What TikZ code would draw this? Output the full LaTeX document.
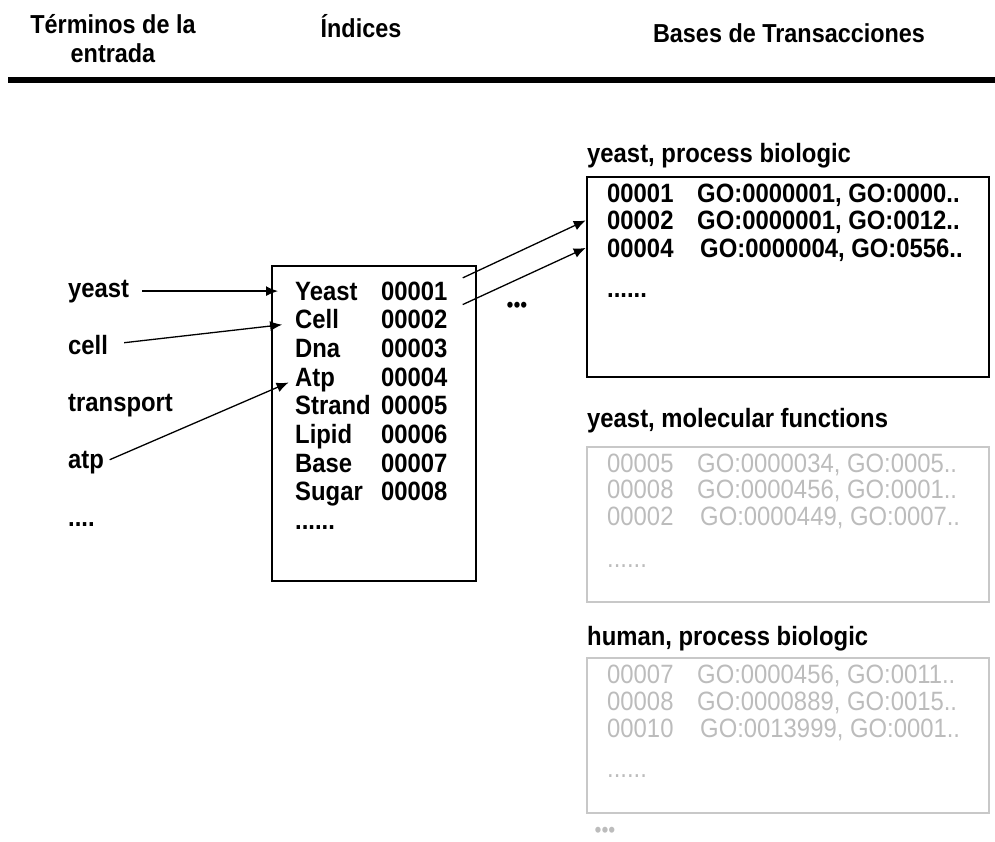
\documentclass[tikz,border=0pt]{standalone}
\usepackage{fontspec}
\setmainfont{Liberation Sans}[FakeStretch=0.9]
\usetikzlibrary{arrows.meta,calc}
\definecolor{fadetext}{RGB}{188,188,188}
\definecolor{fadeline}{RGB}{200,200,200}
\begin{document}
\begin{tikzpicture}[x=1pt, y=-1pt,
    lbl/.style={inner sep=0pt, anchor=base west, font=\fontsize{26.5}{29}\selectfont\bfseries},
    row/.style={inner sep=0pt, anchor=base west, font=\fontsize{26.5}{29}\selectfont},
    head/.style={inner sep=0pt, anchor=base, align=center, font=\fontsize{26}{29}\selectfont\bfseries},
    idxbox/.style={draw, line width=2.5pt, minimum width=204pt, minimum height=315pt, inner sep=0pt},
    dbbox/.style={draw, line width=2.5pt, minimum width=402pt, inner sep=0pt},
    fade/.style={draw=fadeline, text=fadetext},
    link/.style={-{Latex[length=12pt,width=10pt]}, line width=1.3pt}]
	\useasboundingbox (0,0) rectangle (995,841);

	\node[head] (hterm) at (113,62) {Términos de la\\entrada};
	\node[head] (hidx) at (361,37) {Índices};
	\node[head] (hdb) at (789,42) {Bases de Transacciones};
	\draw[line width=6pt] (8,80) -- (995,80);

	\foreach \w/\y in {yeast/297, cell/354, transport/411, atp/468}
		\node[lbl] (t-\w) at (68,\y) {\w};
	\node[lbl] (t-more) at (68,526) {....};

	\node[idxbox] (idx) at (374,423.5) {};
	\foreach \w/\n [count=\i] in {Yeast/00001, Cell/00002, Dna/00003, Atp/00004, Strand/00005, Lipid/00006, Base/00007, Sugar/00008} {
		\node[lbl] (w\i) at (295,{300+28.7*(\i-1)}) {\w};
		\node[lbl] (n\i) at (381,{300+28.7*(\i-1)}) {\n};
	}
	\node[lbl] (w-more) at (295,529) {......};

	\path (t-yeast.east) edge[link, shorten <=13pt, shorten >=17pt] (t-yeast.east -| w1.west);
	\path (t-cell.east) edge[link, shorten <=16pt, shorten >=13pt] ([yshift=-4pt]w2.west);
	\path (t-atp.east) edge[link, shorten <=6pt, shorten >=7pt] (w4.west);

	\node[lbl] (title1) at (587,162) {yeast, process biologic};
	\node[dbbox, minimum height=200pt] (db1) at (788,277) {};
	\foreach \id/\go/\x/\y [count=\i] in {00001/{GO:0000001, GO:0000..}/697/202, 00002/{GO:0000001, GO:0012..}/697/229.5, 00004/{GO:0000004, GO:0556..}/700/257} {
		\node[lbl] (a\i) at (607,\y) {\id};
		\node[lbl] (ga\i) at (\x,\y) {\go};
	}
	\node[lbl] (a-more) at (607,297) {......};

	\node[lbl] (title2) at (587,427) {yeast, molecular functions};
	\node[dbbox, fade, minimum height=155pt] (db2) at (788,524.5) {};
	\foreach \id/\go/\x/\y [count=\i] in {00005/{GO:0000034, GO:0005..}/697/472, 00008/{GO:0000456, GO:0001..}/697/498.5, 00002/{GO:0000449, GO:0007..}/700/525} {
		\node[row, text=fadetext] (b\i) at (607,\y) {\id};
		\node[row, text=fadetext] (gb\i) at (\x,\y) {\go};
	}
	\node[row, text=fadetext] (b-more) at (607,567) {......};

	\node[lbl] (title3) at (587,645) {human, process biologic};
	\node[dbbox, fade, minimum height=155pt] (db3) at (788,735.5) {};
	\foreach \id/\go/\x/\y [count=\i] in {00007/{GO:0000456, GO:0011..}/697/683, 00008/{GO:0000889, GO:0015..}/697/710, 00010/{GO:0013999, GO:0001..}/700/737} {
		\node[row, text=fadetext] (c\i) at (607,\y) {\id};
		\node[row, text=fadetext] (gc\i) at (\x,\y) {\go};
	}
	\node[row, text=fadetext] (c-more) at (607,777) {......};

	\node[inner sep=0pt, font=\fontsize{22}{22}\selectfont] (idx-more) at (517,307) {•••};
	\node[inner sep=0pt, text=fadetext, font=\fontsize{22}{22}\selectfont] (db-more) at (605,832) {•••};

	\path ([xshift=15pt, yshift=13pt]n1.east) edge[link] (db1.west |- a2.west);
	\path ([xshift=15pt, yshift=15pt]n2.east) edge[link] (db1.west |- a3.west);
\end{tikzpicture}
\end{document}
